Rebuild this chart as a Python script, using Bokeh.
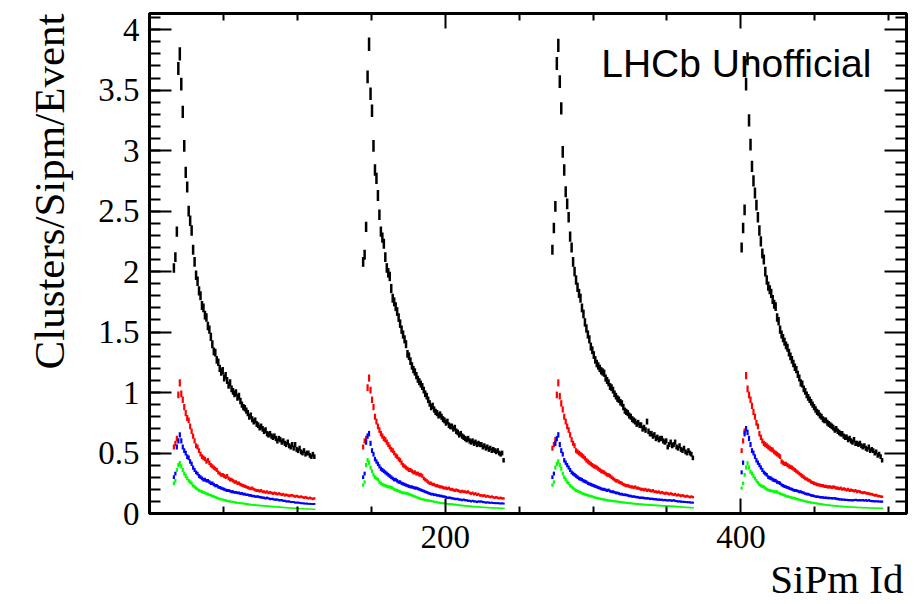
import math
from bokeh.plotting import figure
from bokeh.models import (Range1d, LinearAxis, FixedTicker, SingleIntervalTicker,
                          NumeralTickFormatter, Label, Title, ColumnDataSource)
from bokeh.embed import file_html
from bokeh.resources import INLINE

# ---------------- data (SiPM id bins, value per bin) ----------------
GROUP_START = [16, 144, 272, 400]   # first SiPm Id of each readout group (96 SiPMs each)

blk1 = [2.03, 2.12, 2.33, 3.68, 3.80, 3.55, 3.32, 3.04, 2.82, 2.70,
        2.50, 2.42, 2.34, 2.18, 2.08, 1.97, 1.92, 1.84, 1.80, 1.72,
        1.70, 1.64, 1.62, 1.55, 1.52, 1.46, 1.40, 1.34, 1.33, 1.27,
        1.25, 1.20, 1.17, 1.18, 1.12, 1.14, 1.10, 1.06, 1.08, 1.03,
        1.01, 0.99, 1.00, 0.96, 0.97, 0.93, 0.90, 0.88, 0.87, 0.85,
        0.83, 0.80, 0.81, 0.78, 0.76, 0.77, 0.74, 0.73, 0.71, 0.72,
        0.70, 0.68, 0.69, 0.66, 0.65, 0.66, 0.64, 0.63, 0.64, 0.62,
        0.60, 0.62, 0.61, 0.59, 0.60, 0.58, 0.57, 0.59, 0.56, 0.55,
        0.57, 0.54, 0.57, 0.53, 0.52, 0.54, 0.51, 0.50, 0.52, 0.49,
        0.50, 0.50, 0.48, 0.47, 0.49, 0.47]
blk2 = [2.08, 2.14, 2.37, 3.61, 3.88, 3.47, 3.33, 3.04, 2.84, 2.77,
        2.63, 2.47, 2.33, 2.28, 2.23, 2.12, 2.03, 1.99, 1.96, 1.86,
        1.78, 1.75, 1.71, 1.67, 1.62, 1.57, 1.52, 1.48, 1.44, 1.40,
        1.32, 1.30, 1.26, 1.22, 1.19, 1.17, 1.14, 1.11, 1.09, 1.07,
        1.05, 1.02, 0.99, 0.97, 0.94, 0.91, 0.88, 0.89, 0.86, 0.84,
        0.83, 0.81, 0.82, 0.80, 0.78, 0.77, 0.75, 0.76, 0.73, 0.72,
        0.72, 0.70, 0.71, 0.68, 0.67, 0.65, 0.66, 0.64, 0.63, 0.62,
        0.61, 0.62, 0.60, 0.59, 0.60, 0.58, 0.59, 0.57, 0.58, 0.57,
        0.57, 0.55, 0.56, 0.54, 0.55, 0.53, 0.54, 0.52, 0.53, 0.52,
        0.51, 0.52, 0.50, 0.49, 0.50, 0.44]
blk3 = [2.18, 2.36, 2.54, 3.72, 3.87, 3.57, 3.35, 2.99, 2.84, 2.66,
        2.56, 2.45, 2.29, 2.20, 2.08, 2.00, 1.93, 1.87, 1.82, 1.78,
        1.70, 1.65, 1.58, 1.53, 1.48, 1.44, 1.38, 1.35, 1.31, 1.27,
        1.24, 1.22, 1.20, 1.18, 1.17, 1.16, 1.12, 1.10, 1.08, 1.05,
        1.04, 1.02, 0.99, 0.97, 0.95, 0.94, 0.92, 0.91, 0.88, 0.85,
        0.84, 0.83, 0.81, 0.80, 0.78, 0.77, 0.76, 0.74, 0.75, 0.73,
        0.73, 0.70, 0.71, 0.69, 0.76, 0.68, 0.66, 0.66, 0.64, 0.65,
        0.62, 0.63, 0.61, 0.62, 0.62, 0.60, 0.59, 0.60, 0.55, 0.57,
        0.59, 0.56, 0.57, 0.59, 0.55, 0.54, 0.56, 0.53, 0.52, 0.54,
        0.51, 0.50, 0.52, 0.50, 0.49, 0.46]
blk4 = [2.20, 2.36, 2.51, 3.55, 3.76, 3.25, 3.05, 2.87, 2.75, 2.65,
        2.55, 2.45, 2.34, 2.25, 2.15, 2.10, 2.00, 1.93, 1.88, 1.85,
        1.82, 1.77, 1.73, 1.71, 1.62, 1.59, 1.52, 1.48, 1.45, 1.42,
        1.39, 1.37, 1.33, 1.30, 1.27, 1.24, 1.21, 1.19, 1.15, 1.12,
        1.08, 1.07, 1.03, 1.01, 0.98, 0.96, 0.94, 0.92, 0.90, 0.88,
        0.86, 0.84, 0.83, 0.81, 0.80, 0.78, 0.77, 0.77, 0.75, 0.74,
        0.73, 0.72, 0.71, 0.69, 0.70, 0.68, 0.67, 0.66, 0.66, 0.64,
        0.63, 0.63, 0.61, 0.62, 0.60, 0.59, 0.61, 0.58, 0.58, 0.57,
        0.58, 0.56, 0.55, 0.56, 0.54, 0.53, 0.55, 0.52, 0.53, 0.52,
        0.50, 0.51, 0.48, 0.49, 0.47, 0.44]

red1 = [0.55, 0.58, 0.62, 0.98, 1.08, 0.99, 0.94, 0.88, 0.83, 0.79,
        0.77, 0.72, 0.68, 0.64, 0.60, 0.56, 0.55, 0.52, 0.49, 0.47,
        0.46, 0.45, 0.43, 0.44, 0.42, 0.40, 0.39, 0.38, 0.37, 0.36,
        0.34, 0.33, 0.32, 0.32, 0.31, 0.30, 0.31, 0.29, 0.28, 0.28,
        0.27, 0.26, 0.26, 0.25, 0.25, 0.24, 0.235, 0.23, 0.225, 0.22,
        0.215, 0.21, 0.205, 0.21, 0.20, 0.195, 0.19, 0.19, 0.185, 0.19,
        0.18, 0.18, 0.175, 0.18, 0.17, 0.175, 0.17, 0.165, 0.17, 0.165,
        0.16, 0.165, 0.16, 0.155, 0.16, 0.15, 0.155, 0.15, 0.145, 0.15,
        0.15, 0.145, 0.14, 0.145, 0.14, 0.135, 0.14, 0.135, 0.13, 0.135,
        0.13, 0.125, 0.13, 0.125, 0.12, 0.125]
red2 = [0.55, 0.60, 0.62, 1.04, 1.12, 1.02, 0.94, 0.88, 0.80, 0.76,
        0.72, 0.69, 0.66, 0.64, 0.62, 0.61, 0.59, 0.57, 0.55, 0.53,
        0.52, 0.50, 0.48, 0.47, 0.45, 0.44, 0.42, 0.40, 0.39, 0.38,
        0.37, 0.36, 0.36, 0.35, 0.34, 0.34, 0.33, 0.33, 0.32, 0.32,
        0.31, 0.29, 0.28, 0.27, 0.26, 0.25, 0.25, 0.24, 0.24, 0.23,
        0.23, 0.225, 0.22, 0.22, 0.215, 0.21, 0.21, 0.205, 0.21, 0.20,
        0.20, 0.195, 0.19, 0.195, 0.19, 0.185, 0.18, 0.185, 0.18, 0.18,
        0.175, 0.18, 0.17, 0.165, 0.17, 0.16, 0.165, 0.155, 0.16, 0.15,
        0.15, 0.145, 0.15, 0.14, 0.145, 0.14, 0.135, 0.14, 0.135, 0.13,
        0.135, 0.13, 0.125, 0.13, 0.125, 0.125]
red3 = [0.54, 0.57, 0.61, 0.98, 1.08, 0.97, 0.91, 0.86, 0.80, 0.76,
        0.72, 0.69, 0.65, 0.61, 0.58, 0.56, 0.52, 0.51, 0.50, 0.49,
        0.48, 0.47, 0.456, 0.44, 0.43, 0.42, 0.41, 0.40, 0.39, 0.387,
        0.38, 0.37, 0.36, 0.35, 0.345, 0.34, 0.33, 0.32, 0.318, 0.31,
        0.30, 0.29, 0.28, 0.27, 0.27, 0.26, 0.255, 0.25, 0.24, 0.235,
        0.23, 0.23, 0.225, 0.22, 0.22, 0.215, 0.22, 0.21, 0.21, 0.205,
        0.20, 0.20, 0.195, 0.20, 0.19, 0.195, 0.19, 0.185, 0.19, 0.18,
        0.18, 0.175, 0.18, 0.17, 0.175, 0.17, 0.165, 0.17, 0.165, 0.16,
        0.165, 0.16, 0.155, 0.16, 0.15, 0.155, 0.15, 0.145, 0.15, 0.145,
        0.14, 0.145, 0.14, 0.135, 0.14, 0.135]
red4 = [0.52, 0.60, 0.68, 1.14, 1.03, 0.98, 0.94, 0.89, 0.84, 0.80,
        0.75, 0.72, 0.66, 0.63, 0.60, 0.58, 0.57, 0.56, 0.55, 0.54,
        0.53, 0.525, 0.51, 0.50, 0.49, 0.48, 0.47, 0.43, 0.42, 0.41,
        0.41, 0.40, 0.39, 0.385, 0.38, 0.37, 0.36, 0.35, 0.34, 0.33,
        0.32, 0.31, 0.30, 0.29, 0.285, 0.277, 0.27, 0.26, 0.255, 0.25,
        0.245, 0.24, 0.236, 0.235, 0.23, 0.23, 0.225, 0.225, 0.22, 0.22,
        0.22, 0.215, 0.22, 0.217, 0.21, 0.21, 0.205, 0.21, 0.20, 0.205,
        0.20, 0.195, 0.20, 0.19, 0.194, 0.19, 0.185, 0.19, 0.18, 0.185,
        0.18, 0.175, 0.17, 0.175, 0.168, 0.167, 0.165, 0.16, 0.16, 0.155,
        0.15, 0.152, 0.145, 0.145, 0.14, 0.139]

blu1 = [0.30, 0.33, 0.55, 0.60, 0.65, 0.60, 0.55, 0.52, 0.50, 0.47,
        0.46, 0.43, 0.41, 0.38, 0.36, 0.34, 0.33, 0.31, 0.30, 0.29,
        0.28, 0.28, 0.27, 0.27, 0.26, 0.25, 0.25, 0.24, 0.23, 0.23,
        0.22, 0.215, 0.21, 0.205, 0.20, 0.195, 0.19, 0.19, 0.185, 0.18,
        0.18, 0.175, 0.175, 0.17, 0.17, 0.165, 0.167, 0.16, 0.16, 0.155,
        0.155, 0.15, 0.15, 0.145, 0.145, 0.14, 0.14, 0.14, 0.135, 0.135,
        0.13, 0.13, 0.125, 0.13, 0.125, 0.12, 0.12, 0.12, 0.115, 0.115,
        0.115, 0.11, 0.11, 0.11, 0.105, 0.105, 0.10, 0.10, 0.10, 0.095,
        0.095, 0.095, 0.09, 0.09, 0.09, 0.088, 0.085, 0.085, 0.083, 0.082,
        0.082, 0.08, 0.08, 0.079, 0.078, 0.079]
blu2 = [0.30, 0.33, 0.59, 0.64, 0.66, 0.58, 0.52, 0.49, 0.45, 0.43,
        0.41, 0.39, 0.37, 0.36, 0.35, 0.34, 0.33, 0.32, 0.31, 0.30,
        0.29, 0.28, 0.28, 0.27, 0.26, 0.26, 0.25, 0.245, 0.24, 0.235,
        0.23, 0.225, 0.22, 0.22, 0.215, 0.21, 0.21, 0.205, 0.20, 0.195,
        0.19, 0.185, 0.18, 0.175, 0.17, 0.165, 0.16, 0.16, 0.155, 0.155,
        0.15, 0.15, 0.145, 0.145, 0.14, 0.14, 0.135, 0.13, 0.13, 0.13,
        0.125, 0.125, 0.12, 0.12, 0.12, 0.115, 0.115, 0.11, 0.115, 0.11,
        0.11, 0.105, 0.105, 0.10, 0.105, 0.10, 0.10, 0.095, 0.10, 0.098,
        0.10, 0.095, 0.093, 0.09, 0.092, 0.09, 0.088, 0.09, 0.087, 0.086,
        0.085, 0.086, 0.084, 0.083, 0.084, 0.082]
blu3 = [0.30, 0.33, 0.58, 0.62, 0.65, 0.57, 0.52, 0.49, 0.44, 0.42,
        0.40, 0.38, 0.36, 0.34, 0.33, 0.32, 0.31, 0.30, 0.29, 0.285,
        0.28, 0.27, 0.265, 0.26, 0.25, 0.245, 0.24, 0.235, 0.23, 0.225,
        0.22, 0.215, 0.21, 0.205, 0.20, 0.20, 0.195, 0.19, 0.194, 0.185,
        0.18, 0.18, 0.175, 0.17, 0.17, 0.165, 0.16, 0.16, 0.155, 0.155,
        0.153, 0.15, 0.145, 0.145, 0.14, 0.14, 0.138, 0.135, 0.135, 0.13,
        0.13, 0.13, 0.128, 0.125, 0.126, 0.125, 0.12, 0.122, 0.12, 0.118,
        0.118, 0.115, 0.115, 0.113, 0.114, 0.11, 0.112, 0.11, 0.108, 0.11,
        0.108, 0.105, 0.11, 0.105, 0.102, 0.10, 0.10, 0.098, 0.097, 0.096,
        0.095, 0.094, 0.093, 0.092, 0.09, 0.09]
blu4 = [0.34, 0.42, 0.66, 0.70, 0.67, 0.62, 0.57, 0.52, 0.50, 0.47,
        0.44, 0.42, 0.40, 0.38, 0.36, 0.34, 0.33, 0.32, 0.30, 0.295,
        0.29, 0.28, 0.275, 0.27, 0.26, 0.255, 0.25, 0.236, 0.23, 0.225,
        0.22, 0.215, 0.21, 0.205, 0.20, 0.195, 0.19, 0.19, 0.185, 0.18,
        0.18, 0.175, 0.17, 0.165, 0.16, 0.16, 0.155, 0.15, 0.148, 0.145,
        0.14, 0.139, 0.138, 0.135, 0.135, 0.132, 0.13, 0.13, 0.128, 0.128,
        0.127, 0.126, 0.125, 0.126, 0.122, 0.12, 0.118, 0.117, 0.115, 0.114,
        0.113, 0.112, 0.111, 0.11, 0.11, 0.108, 0.11, 0.112, 0.11, 0.108,
        0.11, 0.108, 0.11, 0.106, 0.11, 0.105, 0.11, 0.104, 0.103, 0.102,
        0.10, 0.101, 0.10, 0.099, 0.098, 0.098]

grn1 = [0.25, 0.27, 0.36, 0.40, 0.415, 0.39, 0.36, 0.33, 0.31, 0.29,
        0.27, 0.26, 0.25, 0.23, 0.22, 0.21, 0.20, 0.19, 0.185, 0.18,
        0.175, 0.17, 0.165, 0.16, 0.155, 0.15, 0.145, 0.14, 0.135, 0.13,
        0.125, 0.12, 0.117, 0.115, 0.11, 0.108, 0.105, 0.10, 0.10, 0.097,
        0.095, 0.093, 0.09, 0.088, 0.087, 0.085, 0.084, 0.082, 0.08, 0.078,
        0.077, 0.075, 0.074, 0.072, 0.071, 0.07, 0.068, 0.067, 0.066, 0.065,
        0.064, 0.063, 0.062, 0.061, 0.06, 0.059, 0.058, 0.057, 0.056, 0.055,
        0.054, 0.053, 0.052, 0.051, 0.05, 0.049, 0.048, 0.047, 0.046, 0.045,
        0.045, 0.044, 0.043, 0.042, 0.041, 0.04, 0.04, 0.039, 0.038, 0.038,
        0.037, 0.037, 0.036, 0.036, 0.035, 0.035]
grn2 = [0.235, 0.26, 0.40, 0.44, 0.42, 0.38, 0.35, 0.32, 0.30, 0.29,
        0.28, 0.26, 0.25, 0.24, 0.235, 0.23, 0.225, 0.22, 0.22, 0.215,
        0.21, 0.20, 0.195, 0.19, 0.185, 0.18, 0.175, 0.17, 0.17, 0.167,
        0.165, 0.16, 0.155, 0.15, 0.145, 0.14, 0.135, 0.13, 0.125, 0.12,
        0.118, 0.115, 0.112, 0.11, 0.108, 0.105, 0.103, 0.10, 0.098, 0.095,
        0.093, 0.09, 0.088, 0.086, 0.085, 0.083, 0.082, 0.08, 0.079, 0.078,
        0.077, 0.075, 0.074, 0.072, 0.07, 0.069, 0.067, 0.066, 0.065, 0.063,
        0.062, 0.061, 0.06, 0.059, 0.058, 0.057, 0.056, 0.055, 0.054, 0.053,
        0.052, 0.051, 0.05, 0.05, 0.049, 0.048, 0.048, 0.047, 0.046, 0.046,
        0.045, 0.045, 0.044, 0.044, 0.043, 0.043]
grn3 = [0.235, 0.26, 0.38, 0.41, 0.43, 0.40, 0.37, 0.33, 0.30, 0.28,
        0.26, 0.25, 0.23, 0.22, 0.21, 0.20, 0.19, 0.185, 0.18, 0.175,
        0.167, 0.163, 0.158, 0.155, 0.15, 0.147, 0.143, 0.14, 0.135, 0.132,
        0.128, 0.126, 0.123, 0.12, 0.118, 0.115, 0.113, 0.11, 0.108, 0.106,
        0.105, 0.103, 0.101, 0.10, 0.098, 0.097, 0.095, 0.093, 0.092, 0.09,
        0.088, 0.087, 0.086, 0.085, 0.083, 0.082, 0.08, 0.079, 0.078, 0.077,
        0.076, 0.075, 0.074, 0.073, 0.072, 0.071, 0.07, 0.07, 0.069, 0.068,
        0.067, 0.066, 0.066, 0.065, 0.064, 0.063, 0.063, 0.062, 0.062, 0.061,
        0.06, 0.06, 0.059, 0.058, 0.057, 0.056, 0.055, 0.054, 0.053, 0.052,
        0.051, 0.05, 0.05, 0.049, 0.048, 0.048]
grn4 = [0.21, 0.25, 0.32, 0.38, 0.415, 0.38, 0.345, 0.33, 0.31, 0.29,
        0.27, 0.255, 0.24, 0.23, 0.225, 0.22, 0.21, 0.20, 0.195, 0.19,
        0.187, 0.185, 0.18, 0.18, 0.18, 0.17, 0.165, 0.16, 0.155, 0.15,
        0.145, 0.14, 0.138, 0.135, 0.13, 0.128, 0.126, 0.12, 0.118, 0.115,
        0.11, 0.108, 0.105, 0.10, 0.098, 0.095, 0.093, 0.09, 0.088, 0.086,
        0.084, 0.082, 0.08, 0.078, 0.076, 0.075, 0.073, 0.072, 0.07, 0.069,
        0.068, 0.066, 0.065, 0.062, 0.063, 0.061, 0.06, 0.059, 0.058, 0.057,
        0.056, 0.055, 0.054, 0.053, 0.053, 0.052, 0.051, 0.051, 0.05, 0.05,
        0.049, 0.049, 0.048, 0.048, 0.047, 0.047, 0.046, 0.046, 0.045, 0.045,
        0.044, 0.044, 0.044, 0.043, 0.043, 0.043]

SERIES = [
    ("black", 2.5, [blk1, blk2, blk3, blk4]),
    ("#ff0000", 2.2, [red1, red2, red3, red4]),
    ("#0000ff", 2.2, [blu1, blu2, blu3, blu4]),
    ("#00ff00", 2.2, [grn1, grn2, grn3, grn4]),
]
X_TICKS = [200, 400]
X_MINOR = [50, 100, 150, 250, 300, 350, 450, 500]
Y_MAJOR = [0, 0.5, 1, 1.5, 2, 2.5, 3, 3.5, 4]
Y_MINOR = [round(i * 0.1, 1) for i in range(42) if i % 5]
ERR_SCALE = 0.028   # statistical error bar half-length ~ ERR_SCALE*sqrt(value)
X_LABEL = "SiPm Id"
Y_LABEL = "Clusters/Sipm/Event"

# ---------------- figure ----------------
p = figure(width=916, height=604, x_range=Range1d(0, 512), y_range=Range1d(0, 4.134),
           output_backend="svg", toolbar_location=None,
           x_axis_type=None, y_axis_type=None,
           min_border_left=149, min_border_right=10, min_border_top=13, min_border_bottom=90)
p.background_fill_color = "white"
p.border_fill_color = "white"
p.outline_line_color = "black"
p.outline_line_width = 3

SERIF = "Liberation Serif"

def style_axis(ax, major_in, minor_in, standoff):
    ax.axis_line_color = "black"
    ax.axis_line_width = 3
    ax.major_tick_line_color = "black"
    ax.minor_tick_line_color = "black"
    ax.major_tick_line_width = 2
    ax.minor_tick_line_width = 2
    ax.major_tick_in = major_in
    ax.major_tick_out = 0
    ax.minor_tick_in = minor_in
    ax.minor_tick_out = 0
    ax.major_label_text_font = SERIF
    ax.major_label_text_font_size = "33px"
    ax.major_label_text_color = "black"
    ax.major_label_standoff = standoff

def tick_only_axis(positions, length, side):
    ax = LinearAxis(ticker=FixedTicker(ticks=[], minor_ticks=positions))
    ax.axis_line_color = None
    ax.major_tick_line_color = None
    ax.minor_tick_line_color = "black"
    ax.minor_tick_line_width = 2
    ax.minor_tick_in = length
    ax.minor_tick_out = 0
    ax.major_tick_in = 0
    ax.major_tick_out = 0
    ax.major_label_standoff = 0
    p.add_layout(ax, side)

xb = LinearAxis(ticker=FixedTicker(ticks=X_TICKS, minor_ticks=X_MINOR))
style_axis(xb, 15, 7, 12)
p.add_layout(xb, "below")

yl = LinearAxis(ticker=SingleIntervalTicker(interval=0.5, num_minor_ticks=5),
                formatter=NumeralTickFormatter(format="0.[0]"))
style_axis(yl, 22, 11, 10)
p.add_layout(yl, "left")

# mirrored ticks on top and right (no labels)
tick_only_axis(X_MINOR, 7, "above")
tick_only_axis(X_TICKS, 15, "above")
tick_only_axis(Y_MINOR, 11, "right")
tick_only_axis(Y_MAJOR, 22, "right")

# axis titles (ROOT style: aligned to the far end of the axis)
p.add_layout(Title(text=X_LABEL, align="right", text_font=SERIF, text_font_size="41px",
                   text_font_style="normal", text_color="black", standoff=6, offset=3),
             "below")
p.add_layout(Title(text=Y_LABEL, align="right", text_font=SERIF, text_font_size="43px",
                   text_font_style="normal", text_color="black", standoff=45),
             "left")

# ---------------- data marks (error bars per bin) ----------------
for color, width, groups in SERIES:
    xs, lo, hi = [], [], []
    for start, vals in zip(GROUP_START, groups):
        for k, v in enumerate(vals):
            e = ERR_SCALE * math.sqrt(v)
            xs.append(start + k + 0.5)
            lo.append(v - e)
            hi.append(v + e)
    src = ColumnDataSource(data=dict(x=xs, lo=lo, hi=hi))
    p.segment(x0="x", y0="lo", x1="x", y1="hi", source=src,
              line_color=color, line_width=width, line_cap="butt")

# ---------------- texts ----------------
p.add_layout(Label(x=305.5, y=3.72, text="LHCb Unofficial", text_font="Liberation Sans",
                   text_font_size="39px", text_color="black", text_baseline="alphabetic",
                   text_align="left"))

open("out.html", "w").write(file_html(p, INLINE))
